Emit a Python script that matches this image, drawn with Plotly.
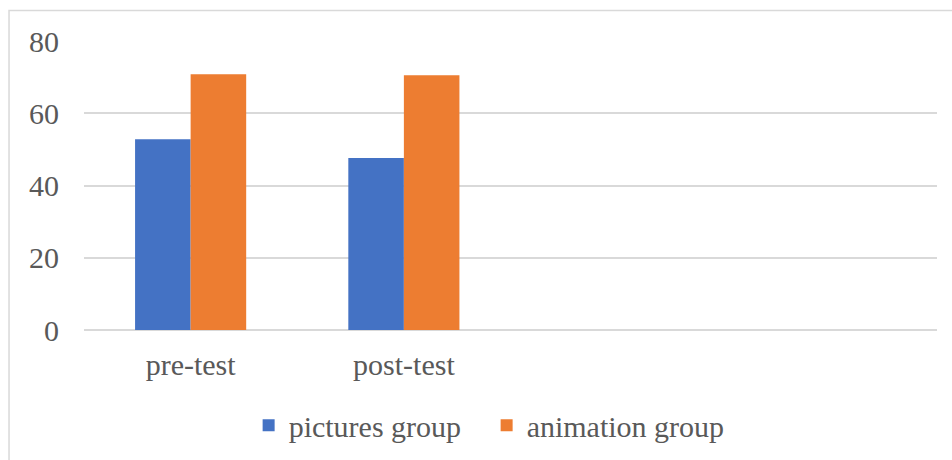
import plotly.graph_objects as go

# Scores by test phase for each group
categories = ["pre-test", "post-test"]
pictures_group = [52.8, 47.6]
animation_group = [70.8, 70.5]
y_ticks = [0, 20, 40, 60, 80]

TEXT = "#595959"
GRID = "#d9d9d9"
FONT = "'Liberation Serif', 'Times New Roman', Tinos, 'DejaVu Serif', serif"

fig = go.Figure()
fig.add_trace(go.Bar(name="pictures group", x=categories, y=pictures_group,
                     marker=dict(color="#4472c4", line=dict(width=0))))
fig.add_trace(go.Bar(name="animation group", x=categories, y=animation_group,
                     marker=dict(color="#ed7d31", line=dict(width=0))))

fig.update_layout(
    width=952, height=460,
    margin=dict(l=84, r=15, t=41, b=129.7, autoexpand=False),
    paper_bgcolor="white", plot_bgcolor="white",
    barmode="group", bargap=0.479, bargroupgap=0,
    font=dict(family=FONT, size=30, color=TEXT),
    showlegend=True,
    legend=dict(orientation="h", x=0.193, xanchor="left", y=-0.33, yanchor="middle",
                font=dict(family=FONT, size=30, color=TEXT),
                entrywidth=193, entrywidthmode="pixels",
                bgcolor="rgba(0,0,0,0)", borderwidth=0),
    xaxis=dict(type="category", range=[-0.5, 3.5], showgrid=False, zeroline=False,
               showline=False, ticks="", ticklabelstandoff=14,
               tickfont=dict(family=FONT, size=30, color=TEXT)),
    yaxis=dict(range=[0, 80], tickvals=y_ticks, showgrid=True, gridcolor=GRID,
               gridwidth=1.5, zeroline=True, zerolinecolor=GRID, zerolinewidth=1.5,
               showline=False, ticks="", ticklabelstandoff=24,
               tickfont=dict(family=FONT, size=30, color=TEXT)),
    shapes=[dict(type="rect", xref="paper", yref="paper",
                 x0=-0.0879, x1=1.2, y0=-0.6, y1=1.1054,
                 line=dict(color=GRID, width=1.5), layer="below")],
)

fig.write_html("out.html")
